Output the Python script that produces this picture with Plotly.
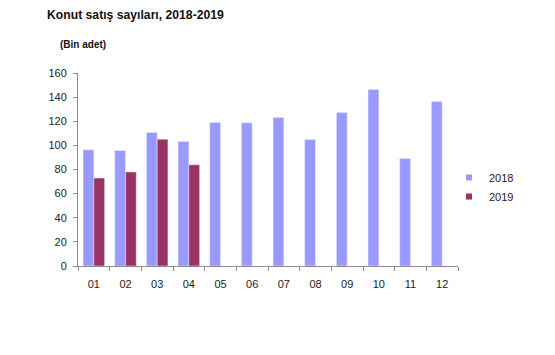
import plotly.graph_objects as go

months = ["01", "02", "03", "04", "05", "06", "07", "08", "09", "10", "11", "12"]
sales_2018 = [96.3, 95.8, 110.6, 103.3, 119.0, 118.7, 123.2, 104.8, 127.2, 146.3, 89.1, 136.3]
sales_2019 = [72.9, 78.0, 105.1, 83.9]
months_2019 = months[:4]

c2018 = "#9999FF"
c2019 = "#993366"
font = "Liberation Sans, Arial, sans-serif"

fig = go.Figure()
fig.add_trace(go.Bar(x=months, y=sales_2018, name="2018", marker_color=c2018, showlegend=False))
fig.add_trace(go.Bar(x=months_2019, y=sales_2019, name="2019", marker_color=c2019, showlegend=False))
# legend entries with small square markers
fig.add_trace(go.Scatter(x=[None], y=[None], mode="markers", name="2018",
                         marker=dict(symbol="square", size=6, color=c2018)))
fig.add_trace(go.Scatter(x=[None], y=[None], mode="markers", name="2019",
                         marker=dict(symbol="square", size=6, color=c2019)))

fig.update_layout(
    width=555, height=355,
    margin=dict(l=78, r=97, t=73, b=89, autoexpand=False),
    paper_bgcolor="white", plot_bgcolor="white",
    barmode="group", bargap=0.32, bargroupgap=0,
    font=dict(family=font, size=11, color="#222"),
    title=dict(text="<b>Konut satış sayıları, 2018-2019</b>", xref="container", yref="container",
               x=47/555, xanchor="left", y=1-15/355, yanchor="middle",
               font=dict(family=font, size=12.2, color="#111")),
    legend=dict(x=449/555, xref="container", y=1-163/355, yref="container",
                xanchor="left", yanchor="top", itemwidth=30,
                tracegroupgap=0, font=dict(size=11, color="#222"),
                bgcolor="rgba(0,0,0,0)"),
    xaxis=dict(type="category", showline=True, linecolor="#8c8c8c", linewidth=1,
               ticks="outside", tickson="boundaries", ticklen=4, tickcolor="#8c8c8c",
               ticklabelstandoff=8,
               showgrid=False, zeroline=False, range=[-0.5, 11.5]),
    yaxis=dict(range=[0, 160], dtick=20, showline=True, linecolor="#8c8c8c", linewidth=1,
               ticks="outside", ticklen=4, tickcolor="#8c8c8c", ticklabelstandoff=4,
               showgrid=False, zeroline=False),
    annotations=[dict(text="<b>(Bin adet)</b>", xref="paper", yref="paper",
                      x=(58-78)/380, y=(266-45)/193, xanchor="left", yanchor="middle",
                      showarrow=False, font=dict(family=font, size=10, color="#111"))],
)

fig.write_html("out.html", config={"displayModeBar": False},
               post_script="document.body.style.margin='0';")
